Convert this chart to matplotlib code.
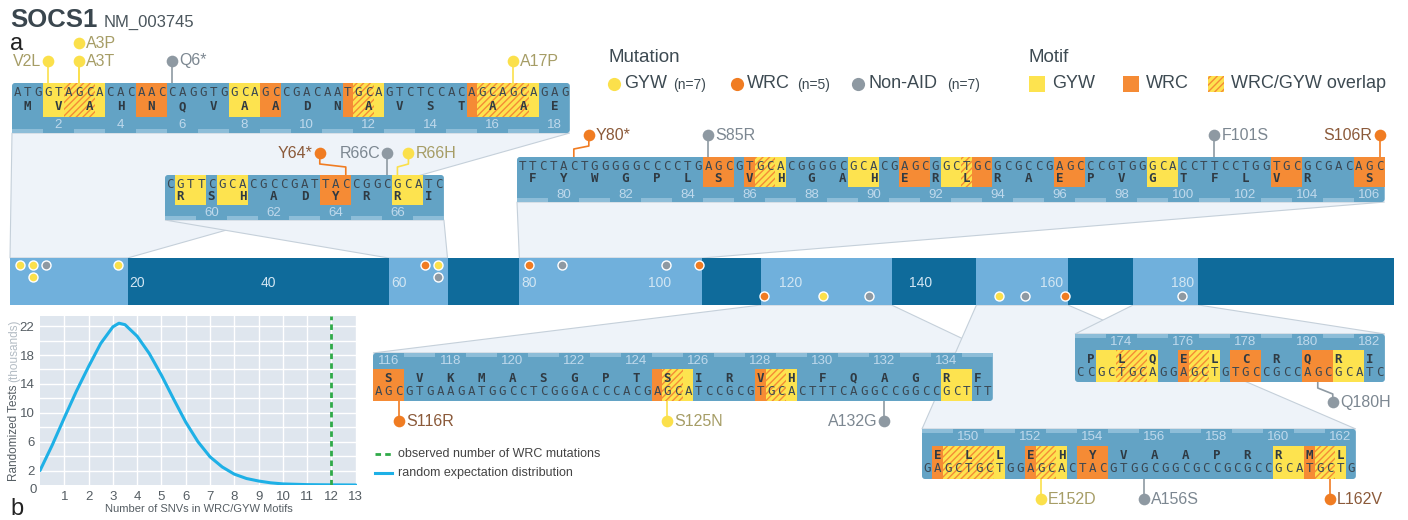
import numpy as np
import matplotlib.pyplot as plt
from matplotlib import font_manager
from matplotlib.patches import Rectangle, Polygon, FancyBboxPatch


def have_font(name):
    try:
        font_manager.findfont(name, fallback_to_default=False)
        return True
    except Exception:
        return False


SANS = 'Liberation Sans'
NARROW = 'Liberation Sans Narrow' if have_font('Liberation Sans Narrow') else 'Liberation Sans'
MONO = 'DejaVu Sans Mono'

# ---------------- data ----------------
gene = "SOCS1"
transcript = "NM_003745"
prot_len = 212

# zoomed windows: first residue, cDNA and protein sequence
win_start = [1, 59, 79, 116, 149, 173]
win_nt = [
    "ATGGTAGCACACAACCAGGTGGCAGCCGACAATGCAGTCTCCACAGCAGCAGAG",
    "CGTTCGCACGCCGATTACCGGCGCATC",
    "TTCTACTGGGGGCCCCTGAGCGTGCACGGGGCGCACGAGCGGCTGCGCGCCGAGCCCGTGGGCACCTTCCTGGTGCGCGACAGC",
    "AGCGTGAAGATGGCCTCGGGACCCACGAGCATCCGCGTGCACTTTCAGGCCGGCCGCTTT",
    "GAGCTGCTGGAGCACTACGTGGCGGCGCCGCGCCGCATGCTG",
    "CCGCTGCAGGAGCTGTGCCGCCAGCGCATC",
]
win_aa = ["MVAHNQVAADNAVSTAAE", "RSHADYRRI", "FYWGPLSVHGAHERLRAEPVGTFLVR S",
          "SVKMASGPTSIRVHFQAGRF", "ELLEHYVAAPRRML", "PLQELCRQRI"]
# motif spans in window nucleotide index (g = GYW, w = WRC, b = overlap)
win_motifs = [
    [('g', 3, 4), ('b', 5, 7), ('g', 8, 8), ('w', 12, 14), ('g', 21, 23), ('w', 24, 25),
     ('w', 32, 32), ('b', 33, 34), ('g', 35, 35), ('w', 44, 44), ('b', 45, 49), ('g', 50, 50)],
    [('g', 1, 3), ('g', 5, 7), ('w', 15, 17), ('g', 22, 24)],
    [('w', 18, 20), ('w', 22, 22), ('b', 23, 24), ('g', 25, 25), ('g', 32, 34), ('w', 37, 39),
     ('g', 41, 42), ('b', 43, 43), ('w', 44, 45), ('w', 52, 54), ('g', 61, 63), ('w', 73, 75),
     ('w', 81, 83)],
    [('w', 0, 2), ('w', 27, 27), ('b', 28, 29), ('g', 30, 30), ('w', 37, 37), ('b', 38, 39),
     ('g', 40, 40), ('g', 55, 57)],
    [('w', 1, 1), ('b', 2, 6), ('g', 7, 7), ('w', 10, 10), ('b', 11, 12), ('g', 13, 13),
     ('w', 15, 17), ('g', 34, 36), ('w', 37, 37), ('b', 38, 39), ('g', 40, 40)],
    [('g', 2, 3), ('b', 4, 6), ('g', 7, 7), ('w', 10, 10), ('b', 11, 12), ('g', 13, 13),
     ('w', 15, 17), ('w', 22, 24), ('g', 25, 27)],
]

mut_name = ["V2L", "A3T", "A3P", "Q6*", "A17P", "Y64*", "R66C", "R66H", "Y80*", "S85R",
            "F101S", "S106R", "S116R", "S125N", "A132G", "E152D", "A156S", "L162V", "Q180H"]
mut_cpos = [4, 7, 7, 16, 49, 192, 196, 197, 240, 253, 302, 318, 348, 374, 395, 456, 466, 484, 540]
mut_class = ["GYW", "GYW", "GYW", "NonAID", "GYW", "WRC", "NonAID", "GYW", "WRC", "NonAID",
             "NonAID", "WRC", "WRC", "GYW", "NonAID", "GYW", "NonAID", "WRC", "NonAID"]

# randomization test (panel b)
snv_x = [0, 0.5, 1, 1.5, 2, 2.5, 3, 3.25, 3.5, 4, 4.5, 5, 5.5, 6, 6.5, 7, 7.5, 8, 8.5,
         9, 9.5, 10, 11, 12, 13]
tests_k = [2.0, 5.5, 9.3, 13.0, 16.4, 19.6, 21.9, 22.4, 22.2, 20.6, 18.2, 15.2, 11.9, 8.7,
           6.0, 3.9, 2.5, 1.5, 0.9, 0.55, 0.3, 0.15, 0.05, 0.02, 0.0]
observed_wrc = 12

# ---------------- layout / style ----------------
win_layout = [(12, 83, 50, 'down'), (165, 175, 45, 'down'), (517, 157, 45, 'down'),
              (373, 353, 48, 'up'), (922, 429, 50, 'up'), (1075, 334, 48, 'up')]
mut_side = ['L', 'R', 'R', 'R', 'R', 'L', 'L', 'R', 'R', 'R', 'R', 'L', 'R', 'R', 'L', 'R', 'R', 'R', 'R']
pin_level = [0, 0, 1, 0, 0, 0, 0, 0, 0, 0, 0, 0, 0, 0, 0, 0, 0, 0, 0]
dot_level = [0, 0, 1, 0, 0, 0, 1, 0, 0, 0, 0, 0, 0, 0, 0, 0, 0, 0, 0]
mut_dx = [0, 0, 0, 0, 0, -26, 0, 11, 15, 0, 0, 0, 0, 0, 0, 0, 0, 0, 15]

NTW = 10.33
BAR_TOP, BAR_BOT = 258, 305
YEL, ORA = '#fde34f', '#f58b35'
DOT_COL = {'GYW': '#fbe04b', 'WRC': '#f07c22', 'NonAID': '#8e99a2'}
LAB_COL = {'GYW': '#a69d66', 'WRC': '#8b5a3a', 'NonAID': '#7c8791'}
BOX, STRIP = '#63a3c5', '#8dbdd8'
NT_COL, NUM_COL = '#3b4853', '#bfd9ec'
TXT = '#3d4a52'
plt.rcParams['hatch.linewidth'] = 1.0


def px(r):
    return 10 + 6.53 * (r - 0.5)


def window_of(res):
    for q in range(len(win_start)):
        if win_start[q] <= res < win_start[q] + len(win_aa[q]):
            return q


fig = plt.figure(figsize=(14.08, 5.2), dpi=100)
ax = fig.add_axes([0, 0, 1, 1])
ax.set_xlim(0, 1408)
ax.set_ylim(520, 0)
ax.axis('off')

# title
ax.text(10, 27, gene, fontsize=18.5, fontweight='bold', color='#3a464e', family=SANS, va='baseline')
ax.text(104, 27, transcript, fontsize=12, color='#4a555c', family=SANS, va='baseline')
ax.text(10, 50, 'a', fontsize=17, color='#222222', family=SANS, va='baseline')

# protein bar
ax.add_patch(Rectangle((px(0.5), BAR_TOP), px(prot_len + 0.5) - px(0.5), BAR_BOT - BAR_TOP,
                       fc='#0f6b9b', ec='none', zorder=3))
for k in range(len(win_start)):
    s = win_start[k]
    e = s + len(win_aa[k]) - 1
    ax.add_patch(Rectangle((px(s - 0.5), BAR_TOP), px(e + 0.5) - px(s - 0.5), BAR_BOT - BAR_TOP,
                           fc='#70b0dc', ec='none', zorder=3))
for r in range(20, 181, 20):
    ax.text(px(r), 283, str(r), fontsize=10, color='#d2e6f3', family=SANS, ha='center',
            va='center', zorder=4)

# zoom windows
for k in range(len(win_start)):
    x0, top, h, side = win_layout[k]
    nts, aas = win_nt[k], win_aa[k]
    n = len(nts)
    x1 = x0 + n * NTW
    bottom = top + h
    s = win_start[k]
    e = s + len(aas) - 1
    if side == 'down':
        poly = [(x0, bottom), (x1, bottom), (px(e + 0.5), BAR_TOP), (px(s - 0.5), BAR_TOP)]
    else:
        poly = [(px(s - 0.5), BAR_BOT), (px(e + 0.5), BAR_BOT), (x1, top), (x0, top)]
    ax.add_patch(Polygon(poly, closed=True, fc='#eef3f9', ec='#c5d0da', lw=0.8, zorder=1))
    ax.add_patch(FancyBboxPatch((x0, top), n * NTW, h, boxstyle='round,pad=0,rounding_size=3',
                                fc=BOX, ec='none', zorder=2))
    if side == 'down':
        hl0, hl1 = top, top + 0.67 * h
        nt_y, aa_y, num_y = top + 0.2 * h, top + 0.47 * h, top + 0.84 * h
        st0 = bottom - 4
    else:
        hl0, hl1 = top + 0.33 * h, bottom
        num_y, aa_y, nt_y = top + 0.16 * h, top + 0.53 * h, top + 0.8 * h
        st0 = top
    for kind, a, b in win_motifs[k]:
        if kind == 'g':
            rect = Rectangle((x0 + a * NTW, hl0), (b - a + 1) * NTW, hl1 - hl0, fc=YEL, ec='none', zorder=3)
        elif kind == 'w':
            rect = Rectangle((x0 + a * NTW, hl0), (b - a + 1) * NTW, hl1 - hl0, fc=ORA, ec='none', zorder=3)
        else:
            rect = Rectangle((x0 + a * NTW, hl0), (b - a + 1) * NTW, hl1 - hl0, fc=YEL, ec=ORA,
                             lw=0, hatch='/////', zorder=3)
        ax.add_patch(rect)
    for i, c in enumerate(nts):
        ax.text(x0 + (i + 0.5) * NTW, nt_y, c, fontsize=9, family=MONO, color=NT_COL,
                ha='center', va='center', zorder=5)
    for j, c in enumerate(aas):
        xc = x0 + (3 * j + 1.5) * NTW
        if c != ' ':
            ax.text(xc, aa_y, c, fontsize=9, family=MONO, fontweight='bold', color='#2f3a43',
                    ha='center', va='center', zorder=5)
        res = s + j
        if res % 2 == 0:
            ax.text(xc, num_y, str(res), fontsize=9.5, family=SANS, color=NUM_COL,
                    ha='center', va='center', zorder=5)
        else:
            ax.add_patch(Rectangle((x0 + 3 * j * NTW, st0), 3 * NTW, 4, fc=STRIP, ec='none', zorder=3))

# mutations: lollipops next to the zoom windows
for i in range(len(mut_name)):
    cls = mut_class[i]
    res = (mut_cpos[i] - 1) // 3 + 1
    k = window_of(res)
    x0, top, h, side = win_layout[k]
    nt_i = mut_cpos[i] - 1 - 3 * (win_start[k] - 1)
    xn = x0 + (nt_i + 0.5) * NTW
    xh = xn + mut_dx[i]
    if side == 'down':
        yh = top - 22 - 18 * pin_level[i]
        y_end = top - 22
        if mut_dx[i]:
            pts = [(xn, top), (xn, top - 8), (xh, top - 11), (xh, y_end)]
        else:
            pts = [(xn, top), (xn, y_end)]
    else:
        yh = top + h + 20
        y_end = yh
        if mut_dx[i]:
            pts = [(xn, top + h), (xn, top + h + 6), (xh, top + h + 12), (xh, y_end)]
        else:
            pts = [(xn, top + h), (xn, y_end)]
    ax.plot([p[0] for p in pts], [p[1] for p in pts], color=DOT_COL[cls], lw=1.2, zorder=6,
            solid_capstyle='butt')
    ax.plot(xh, yh, 'o', ms=8.4, color=DOT_COL[cls], mec='none', zorder=7)
    if mut_side[i] == 'R':
        ax.text(xh + 7, yh, mut_name[i], fontsize=11.5, family=SANS, color=LAB_COL[cls],
                ha='left', va='center', zorder=7)
    else:
        ax.text(xh - 7, yh, mut_name[i], fontsize=11.5, family=SANS, color=LAB_COL[cls],
                ha='right', va='center', zorder=7)

# mutations: dots on the protein bar (stacked ones sit under the first)
row_last = {}
top_x = {}
order = sorted(range(len(mut_name)), key=lambda q: (dot_level[q], mut_cpos[q]))
for i in order:
    cls = mut_class[i]
    res = (mut_cpos[i] - 1) // 3 + 1
    side = win_layout[window_of(res)][3]
    yd = 265 + 12 * dot_level[i] if side == 'down' else 296
    if dot_level[i] > 0:
        xd = top_x[res]
    else:
        xd = px(res)
        if yd in row_last and xd - row_last[yd] < 13:
            xd = row_last[yd] + 13
        row_last[yd] = xd
        top_x[res] = xd
    ax.plot(xd, yd, 'o', ms=6.5, color=DOT_COL[cls], mec='white', mew=1.0, zorder=8)

# legend
ax.text(608, 58, 'Mutation', fontsize=13.5, family=SANS, color=TXT, va='center')
leg_mut = [('GYW', '(n=7)', 'GYW', 614, 624, 673), ('WRC', '(n=5)', 'WRC', 737, 747, 797),
           ('NonAID', '(n=7)', 'Non-AID', 858, 869, 947)]
for cls, nlab, lab, xc, xt, xn_ in leg_mut:
    ax.plot(xc, 84, 'o', ms=9.5, color=DOT_COL[cls], mec='none')
    ax.text(xt, 84, lab, fontsize=13, family=SANS, color=TXT, va='center')
    ax.text(xn_, 85, nlab, fontsize=10, family=NARROW, color=TXT, va='center')
ax.text(1028, 58, 'Motif', fontsize=13.5, family=SANS, color=TXT, va='center')
ax.add_patch(Rectangle((1029, 76), 16, 16, fc=YEL, ec='none'))
ax.text(1052, 84, 'GYW', fontsize=13, family=SANS, color=TXT, va='center')
ax.add_patch(Rectangle((1123, 76), 16, 16, fc=ORA, ec='none'))
ax.text(1146, 84, 'WRC', fontsize=13, family=SANS, color=TXT, va='center')
ax.add_patch(Rectangle((1208, 76), 16, 16, fc=YEL, ec=ORA, lw=0, hatch='/////'))
ax.text(1231, 84, 'WRC/GYW overlap', fontsize=13, family=SANS, color=TXT, va='center')

# panel b
ax.text(10, 515, 'b', fontsize=17, color='#222222', family=SANS, va='baseline')
ax.text(33, 490, '0', fontsize=9.5, color='#555d63', family=NARROW, ha='center', va='center')
ax.plot([375, 392], [454, 454], color='#2faa48', lw=2, ls=(0, (2, 1.5)))
ax.text(398, 454, 'observed number of WRC mutations', fontsize=9, family=NARROW, color='#444',
        va='center')
ax.plot([375, 392], [473, 473], color='#1eb0e6', lw=2.2)
ax.text(398, 473, 'random expectation distribution', fontsize=9, family=NARROW, color='#444',
        va='center')

# y label in two tones, chained bottom to top
renderer = fig.canvas.get_renderer()
t1 = ax.text(17, 481, 'Randomized Tests', fontsize=8.5, family=NARROW, color='#555d63',
             rotation=90, rotation_mode='anchor', ha='left', va='baseline')
bb = t1.get_window_extent(renderer=renderer)
y_next = 520 - bb.y1 - 3
ax.text(17, y_next, '(thousands)', fontsize=8.5, family=NARROW, color='#b3bcc4',
        rotation=90, rotation_mode='anchor', ha='left', va='baseline')

ax2 = fig.add_axes([40 / 1408, 35 / 520, 317 / 1408, 169 / 520])
ax2.set_facecolor('#dfe6ee')
ax2.plot(snv_x, tests_k, color='#1eb0e6', lw=2.2, solid_capstyle='round', zorder=3)
ax2.axvline(observed_wrc, color='#2faa48', lw=2, ls=(0, (2, 1.5)), zorder=4)
ax2.set_xlim(0, 13.05)
ax2.set_ylim(0, 23.4)
ax2.set_xticks(range(1, 14))
ax2.set_yticks(range(2, 23, 2))
ax2.set_yticklabels([str(v) if v % 4 == 2 else '' for v in range(2, 23, 2)])
ax2.grid(True, color='white', lw=1.0, zorder=0)
ax2.set_axisbelow(True)
ax2.tick_params(length=0, labelsize=9.5, colors='#555d63', pad=4)
for lab in ax2.get_xticklabels() + ax2.get_yticklabels():
    lab.set_family(NARROW)
for sp in ax2.spines.values():
    sp.set_visible(False)
ax2.set_xlabel('Number of SNVs in WRC/GYW Motifs', fontsize=8, family=NARROW, color='#555d63',
               labelpad=1)

fig.savefig('out.png', dpi=100)
